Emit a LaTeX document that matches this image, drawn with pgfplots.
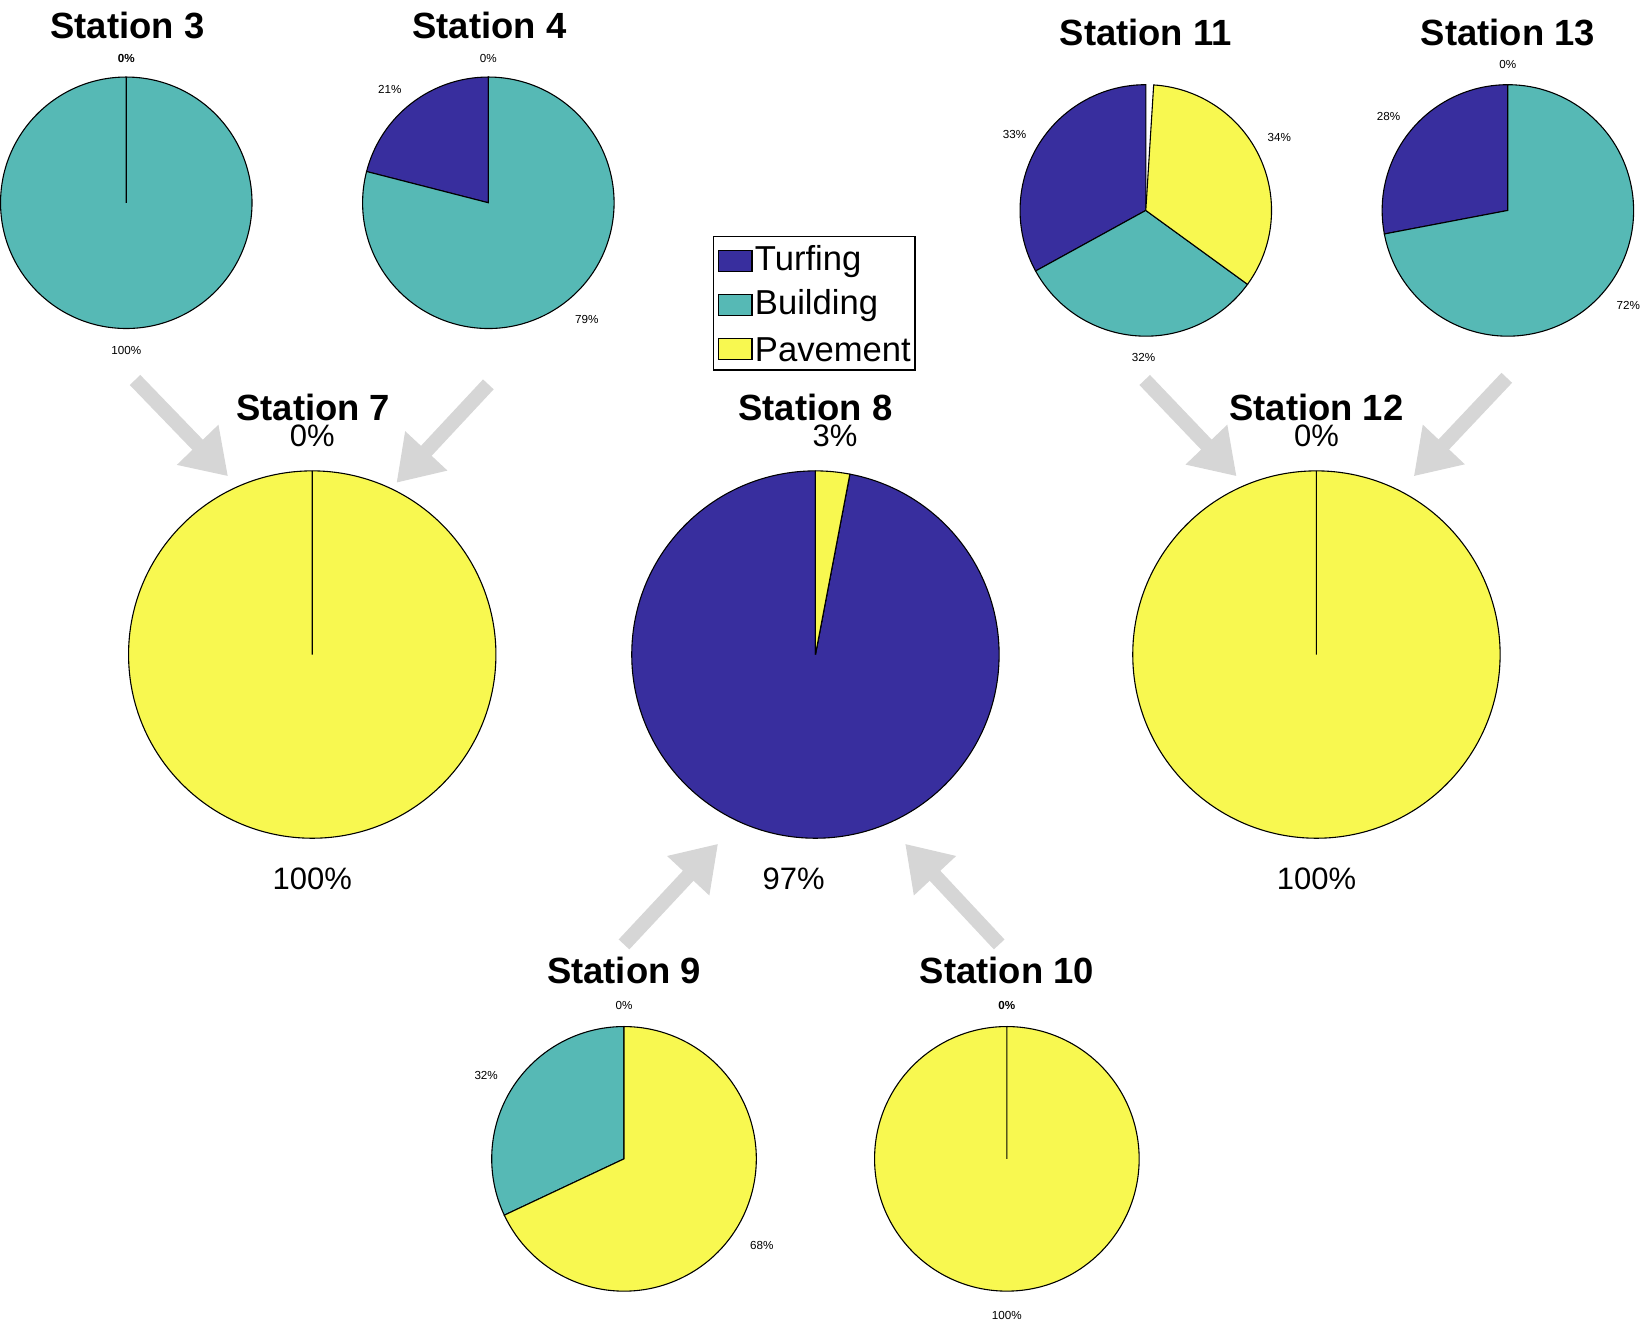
\documentclass[border=0pt]{standalone}
\usepackage{pgfplots}
\pgfplotsset{compat=1.18}
\usepackage{fontspec}
\setmainfont{Liberation Sans}
\usetikzlibrary{arrows.meta}
\definecolor{turf}{RGB}{56,46,158}
\definecolor{bldg}{RGB}{86,185,181}
\definecolor{pave}{RGB}{248,248,80}
\definecolor{arr}{RGB}{214,214,214}
% pie: cx, cy (axis units, y up), r (axis units), turfing %, building %, pavement %
\newcommand\pie[6]{%
  \pgfmathsetmacro\R{#3*0.010549}%
  \pgfmathsetmacro\aA{90+3.6*#4}%
  \pgfmathsetmacro\aB{\aA+3.6*#5}%
  \pgfmathsetmacro\aC{\aB+3.6*#6}%
  \edef\tmp{%
    \noexpand\filldraw[fill=turf,draw=black,line width=0.3pt] (axis cs:#1,#2) -- ++(90:\R cm) arc[start angle=90,end angle=\aA,radius=\R cm] -- cycle;
    \noexpand\filldraw[fill=bldg,draw=black,line width=0.3pt] (axis cs:#1,#2) -- ++(\aA:\R cm) arc[start angle=\aA,end angle=\aB,radius=\R cm] -- cycle;
    \noexpand\filldraw[fill=pave,draw=black,line width=0.3pt] (axis cs:#1,#2) -- ++(\aB:\R cm) arc[start angle=\aB,end angle=\aC,radius=\R cm] -- cycle;
  }\tmp}
\newcommand\garrow[4]{\draw[arr,line width=4pt,-{Triangle[width=15pt,length=12pt]}] (axis cs:#1,#2) -- (axis cs:#3,#4);}
\begin{document}
\begin{tikzpicture}
\begin{axis}[scale only axis,width=16.52cm,height=13.06cm,xmin=0,xmax=1566,ymin=0,ymax=1238,hide axis,clip=false]
% titles
\tikzset{ttl/.style={font=\bfseries\fontsize{10}{12}\selectfont},
 big/.style={font=\fontsize{8.5}{10}\selectfont},
 sm/.style={font=\fontsize{3.2}{4}\selectfont}}
% top-left small pies
\pie{145}{1038}{115}{0}{100}{0}
\pie{476}{1038}{115}{21}{79}{0}
\pie{1077}{1031}{115}{33}{32}{34}
\pie{1408}{1031}{115}{28}{72}{0}
% big pies
\pie{315}{625}{168}{0}{0}{100}
\pie{775}{625}{168}{97}{0}{3}
\pie{1233}{625}{168}{0}{0}{100}
% bottom pies
\pie{600}{164}{121}{0}{32}{68}
\pie{950}{164}{121}{0}{0}{100}
% titles
\node[ttl] at (axis cs:146,1200) {Station 3};
\node[ttl] at (axis cs:477,1200) {Station 4};
\node[ttl] at (axis cs:1077,1194) {Station 11};
\node[ttl] at (axis cs:1408,1194) {Station 13};
\node[ttl] at (axis cs:316,851) {Station 7};
\node[ttl] at (axis cs:775,851) {Station 8};
\node[ttl] at (axis cs:1233,851) {Station 12};
\node[ttl] at (axis cs:600,336) {Station 9};
\node[ttl] at (axis cs:950,336) {Station 10};
% small labels
\node[sm,font=\bfseries\fontsize{3.2}{4}\selectfont] at (axis cs:145,1170) {0\%};
\node[sm] at (axis cs:145,903) {100\%};
\node[sm] at (axis cs:476,1170) {0\%};
\node[sm] at (axis cs:386,1142) {21\%};
\node[sm] at (axis cs:566,931) {79\%};
\node[sm] at (axis cs:957,1100) {33\%};
\node[sm] at (axis cs:1199,1098) {34\%};
\node[sm] at (axis cs:1075,897) {32\%};
\node[sm] at (axis cs:1408,1164) {0\%};
\node[sm] at (axis cs:1299,1117) {28\%};
\node[sm] at (axis cs:1518,944) {72\%};
\node[sm] at (axis cs:600,304) {0\%};
\node[sm] at (axis cs:474,240) {32\%};
\node[sm] at (axis cs:726,85) {68\%};
\node[sm,font=\bfseries\fontsize{3.2}{4}\selectfont] at (axis cs:950,304) {0\%};
\node[sm] at (axis cs:950,21) {100\%};
% big labels
\node[big] at (axis cs:315,825) {0\%};
\node[big] at (axis cs:315,420) {100\%};
\node[big] at (axis cs:793,825) {3\%};
\node[big] at (axis cs:755,420) {97\%};
\node[big] at (axis cs:1233,825) {0\%};
\node[big] at (axis cs:1233,420) {100\%};
% arrows
\garrow{153}{876}{238}{788}
\garrow{476}{872}{392}{782}
\garrow{1076}{876}{1160}{788}
\garrow{1407}{878}{1322}{788}
\garrow{600}{360}{686}{452}
\garrow{943}{360}{857}{452}
% legend
\draw[black,fill=white,line width=0.4pt] (axis cs:682,1007) rectangle (axis cs:866,885);
\filldraw[fill=turf,draw=black,line width=0.3pt] (axis cs:686,975) rectangle (axis cs:717,994);
\filldraw[fill=bldg,draw=black,line width=0.3pt] (axis cs:686,935) rectangle (axis cs:717,954);
\filldraw[fill=pave,draw=black,line width=0.3pt] (axis cs:686,895) rectangle (axis cs:717,914);
\node[big,anchor=west,inner sep=0pt,font=\fontsize{9.5}{11}\selectfont] at (axis cs:719,984) {Turfing};
\node[big,anchor=west,inner sep=0pt,font=\fontsize{9.5}{11}\selectfont] at (axis cs:719,944) {Building};
\node[big,anchor=west,inner sep=0pt,font=\fontsize{9.5}{11}\selectfont] at (axis cs:719,904) {Pavement};
\end{axis}
\end{tikzpicture}
\end{document}
